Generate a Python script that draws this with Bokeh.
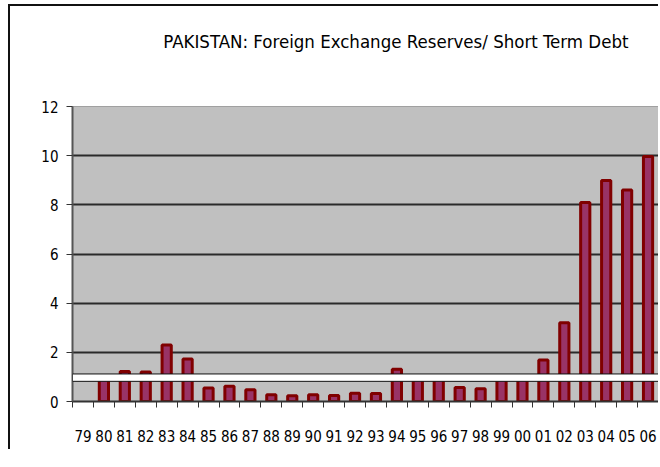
import math
from bokeh.plotting import figure
from bokeh.models import FixedTicker, CustomJSTickFormatter, BoxAnnotation, ColumnDataSource, Title
from bokeh.embed import file_html
from bokeh.resources import INLINE

years = ["79", "80", "81", "82", "83", "84", "85", "86", "87", "88", "89", "90", "91", "92",
         "93", "94", "95", "96", "97", "98", "99", "00", "01", "02", "03", "04", "05", "06"]
ratio = [float("nan"), 1.0, 1.22, 1.2, 2.3, 1.73, 0.55, 0.62, 0.48, 0.27, 0.23, 0.27, 0.24, 0.34,
         0.33, 1.31, 0.95, 0.9, 0.57, 0.52, 1.0, 1.0, 1.69, 3.2, 8.1, 8.99, 8.6, 9.97]
y_ticks = [0, 2, 4, 6, 8, 10, 12]
title_text = "PAKISTAN: Foreign Exchange Reserves/ Short Term Debt"

FONT = "'DejaVu Sans Condensed', 'Liberation Sans', sans-serif"

idx = list(range(len(years)))
src = ColumnDataSource(dict(x=[i + 0.5 for i in idx], top=ratio, year=years))

p = figure(width=650, height=445, output_backend="svg", toolbar_location=None,
           title=None,
           x_range=(0, len(years)), y_range=(0, 12),
           min_border_left=62, min_border_right=2, min_border_top=100, min_border_bottom=50,
           tools="")
p.styles = {"border-left": "2px solid #111", "border-top": "2px solid #111",
            "margin-left": "8px", "margin-top": "4px"}

p.background_fill_color = "#c0c0c0"
p.border_fill_color = "white"
p.outline_line_color = "#a0a0a0"
p.outline_line_width = 1

p.vbar(x="x", top="top", width=0.44, bottom=0, source=src,
       fill_color="#993366", line_color="#800000", line_width=3)

band = BoxAnnotation(bottom=0.82, top=1.12, fill_color="white", fill_alpha=1.0,
                     line_color="#111111", line_width=1, line_alpha=1.0)
p.add_layout(band)

# spacer between plot area and title, then the title itself
spacer = Title(text=" ", text_font_size="1px", standoff=52)
p.add_layout(spacer, "above")
main_title = Title(text=title_text, text_font=FONT, text_font_size="18.5px",
                   text_font_style="normal", text_color="#000000",
                   align="right", offset=30, standoff=0)
p.add_layout(main_title, "above")

# grid
p.xgrid.visible = False
p.ygrid.ticker = FixedTicker(ticks=[2, 4, 6, 8, 10])
p.ygrid.grid_line_color = "#2a2a2a"
p.ygrid.grid_line_width = 2

# y axis
p.yaxis.ticker = FixedTicker(ticks=y_ticks)
p.yaxis.axis_line_color = "#555555"
p.yaxis.axis_line_width = 2
p.yaxis.major_tick_line_color = "#333333"
p.yaxis.major_tick_line_width = 1
p.yaxis.major_tick_out = 6
p.yaxis.major_tick_in = 0
p.yaxis.minor_tick_line_color = None
p.yaxis.major_label_text_font = FONT
p.yaxis.major_label_text_font_size = "15px"
p.yaxis.major_label_text_color = "#000000"
p.yaxis.major_label_standoff = 8

# x axis
p.xaxis.ticker = FixedTicker(ticks=[i + 0.5 for i in idx], minor_ticks=list(range(len(years) + 1)))
p.xaxis.formatter = CustomJSTickFormatter(args=dict(labels=years),
                                          code="return labels[Math.floor(tick)];")
p.xaxis.axis_line_color = "#333333"
p.xaxis.axis_line_width = 2
p.xaxis.major_tick_line_color = None
p.xaxis.major_tick_out = 6
p.xaxis.minor_tick_line_color = "#333333"
p.xaxis.minor_tick_line_width = 1
p.xaxis.minor_tick_out = 6
p.xaxis.minor_tick_in = 0
p.xaxis.major_label_text_font = FONT
p.xaxis.major_label_text_font_size = "15px"
p.xaxis.major_label_text_color = "#000000"
p.xaxis.major_label_standoff = 22

open("out.html", "w").write(file_html(p, INLINE))
